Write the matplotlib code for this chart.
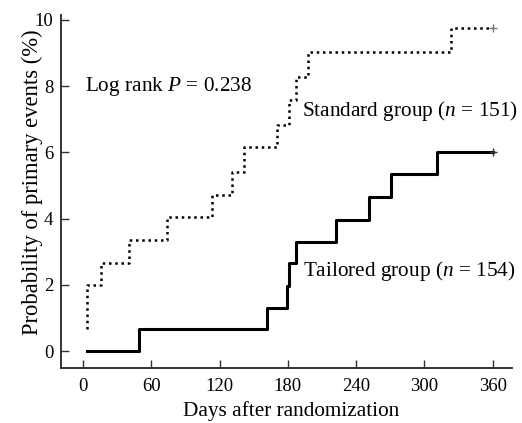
import matplotlib.pyplot as plt

plt.rcParams['font.family'] = ['Liberation Serif', 'DejaVu Serif']
plt.rcParams['mathtext.fontset'] = 'custom'
plt.rcParams['mathtext.rm'] = 'Liberation Serif'
plt.rcParams['mathtext.it'] = 'Liberation Serif:italic'

# Standard group (dotted) - Kaplan-Meier event steps
std_days = [3.5, 3.5, 16, 40, 74, 113, 131, 141, 170, 181, 187, 198, 323, 360]
std_prob = [0.66, 2.0, 2.65, 3.35, 4.05, 4.7, 5.4, 6.16, 6.83, 7.58, 8.28, 9.03, 9.76, 9.76]

# Tailored group (solid)
tail_days = [3, 49, 162, 179, 181, 187, 222, 251, 271, 311, 360]
tail_prob = [0, 0.66, 1.3, 1.96, 2.65, 3.3, 3.96, 4.65, 5.35, 6.01, 6.01]

x_ticks = [0, 60, 120, 180, 240, 300, 360]
y_ticks = [0, 2, 4, 6, 8, 10]

fig = plt.figure(figsize=(5.22, 4.23), dpi=100)
ax = fig.add_axes([0.117, 0.130, 0.864, 0.835])

# ------------------------------------------------
# CURVES
# ------------------------------------------------
ax.step(std_days, std_prob, where='post', color='black',
        linewidth=1.8, linestyle=(0, (1, 1.5)))
ax.step(tail_days, tail_prob, where='post', color='black',
        linewidth=2.2)

# censor marks at end of follow-up
ax.plot([std_days[-1]], [std_prob[-1]], marker='+', color='#777777',
        markersize=6, markeredgewidth=1)
ax.plot([tail_days[-1]], [tail_prob[-1]], marker='+', color='#333333',
        markersize=6, markeredgewidth=1)

# ------------------------------------------------
# ANNOTATIONS
# ------------------------------------------------
ax.text(1.8, 8.0, 'Log rank $P$ = 0.238', fontsize=15.3, va='center', ha='left')
ax.text(192.5, 7.25, 'Standard group ($n$ = 151)', fontsize=15.3, va='center', ha='left')
ax.text(193.5, 2.42, 'Tailored group ($n$ = 154)', fontsize=15.3, va='center', ha='left')

# ------------------------------------------------
# AXES SETTINGS
# ------------------------------------------------
ax.set_xlim(-19.4, 377)
ax.set_ylim(-0.51, 10.15)
ax.set_xticks(x_ticks)
ax.set_yticks(y_ticks)
ax.tick_params(direction='in', length=6, width=1, labelsize=13.5,
               color='#333333')
ax.tick_params(axis='x', pad=7)
ax.tick_params(axis='y', pad=5.5)

for side in ['top', 'right']:
    ax.spines[side].set_visible(False)
for side in ['left', 'bottom']:
    ax.spines[side].set_linewidth(1.4)
    ax.spines[side].set_color('#333333')

ax.set_xlabel('Days after randomization', fontsize=15.3)
ax.xaxis.set_label_coords(0.51, -0.093)
ax.set_ylabel('Probability of primary events (%)', fontsize=16.3)
ax.yaxis.set_label_coords(-0.040, 0.527)

fig.savefig('out.png', dpi=100)
